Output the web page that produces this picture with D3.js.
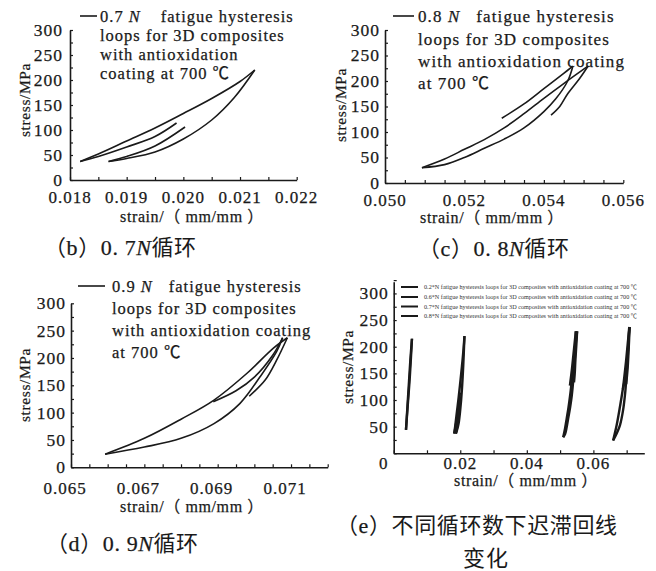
<!DOCTYPE html>
<html><head><meta charset="utf-8">
<script src="https://cdn.jsdelivr.net/npm/d3@7"></script>
<style>
html,body{margin:0;padding:0;background:#fff;}
svg{display:block;}
</style>
</head><body>
<script>
// ---------------- DATA ----------------
const stressTicks = [0, 50, 100, 150, 200, 250, 300];
const stressTicksE = [50, 100, 150, 200, 250, 300];

const strainTicksB = [0.018, 0.019, 0.020, 0.021, 0.022];
const strainTicksC = [0.050, 0.052, 0.054, 0.056];
const strainTicksD = [0.065, 0.067, 0.069, 0.071];
const strainTicksE = [0, 0.02, 0.04, 0.06];

// (b) 0.7N cycles  [strain, stress]
const bUpper   = [[0.01818,37],[0.0185,52],[0.0190,78],[0.0195,104],[0.0200,133],[0.0205,163],[0.0210,197],[0.02126,220]];
const bLower   = [[0.02126,220],[0.0209,165],[0.0205,120],[0.0200,82],[0.0195,56],[0.0190,43],[0.01868,37]];
const bReload1 = [[0.01818,37],[0.0185,47],[0.0190,66],[0.0195,87],[0.01988,114]];
const bReload2 = [[0.01868,37],[0.0190,47],[0.0195,68],[0.02003,106]];

// (c) 0.8N cycles
const cUpper = [[0.05093,30],[0.0515,47],[0.0520,66],[0.0525,85],[0.0530,108],[0.0535,136],[0.0540,166],[0.0545,195],[0.05511,229]];
const cLower = [[0.05093,30],[0.0515,36],[0.0520,50],[0.0525,68],[0.0530,86],[0.0535,108],[0.0540,140],[0.0543,165],[0.0546,200],[0.05473,229]];
const cSeg1  = [[0.05294,127],[0.0535,155],[0.0540,185],[0.0545,215],[0.05473,229]];
const cSeg2  = [[0.05511,229],[0.0549,205],[0.0546,175],[0.0544,150],[0.05418,133]];

// (d) 0.9N cycles
const dUpper = [[0.06593,24],[0.0670,53],[0.0680,88],[0.0689,123],[0.0698,172],[0.07052,218],[0.0709,237]];
const dLower = [[0.06593,24],[0.0670,37],[0.0680,53],[0.0689,80],[0.06961,117],[0.07016,166],[0.07061,212],[0.07077,237]];
const dSeg1  = [[0.06888,120],[0.0695,140],[0.0700,165],[0.0705,205],[0.07077,237]];
const dSeg2  = [[0.0709,237],[0.0706,195],[0.0703,160],[0.06986,130]];

// (e) 0.2N cycles (others reuse b, c, d)
const e02Up   = [[0.00369,44],[0.0042,95],[0.0046,135],[0.0050,175],[0.00549,215]];
const e02Down = [[0.00549,215],[0.0051,170],[0.0047,130],[0.0042,88],[0.00369,44]];

const legendE = [
  "0.2*N fatigue hysteresis loops for 3D composites with antioxidation coating at 700 ℃",
  "0.6*N fatigue hysteresis loops for 3D composites with antioxidation coating at 700 ℃",
  "0.7*N fatigue hysteresis loops for 3D composites with antioxidation coating at 700 ℃",
  "0.8*N fatigue hysteresis loops for 3D composites with antioxidation coating at 700 ℃"
];

// ---------------- DRAW ----------------
const W = 656, H = 571;
const SERIF = "Liberation Serif, Noto Sans CJK SC, serif";
const CJK = "Noto Sans CJK SC";
const INK = "#1a1a1a";
const svg = d3.select("body").append("svg").attr("width", W).attr("height", H);

function T(sel, sw) {
  return sel.attr("font-family", SERIF).attr("fill", INK)
    .attr("stroke", INK).attr("stroke-width", sw == null ? 0.25 : sw);
}

function panel(cfg) {
  const g = svg.append("g");
  const x = d3.scaleLinear().domain(cfg.xDom).range([cfg.left, cfg.right]);
  const y = d3.scaleLinear().domain(cfg.yDom).range([cfg.bottom, cfg.top]);

  const xMinor = d3.range(Math.round((cfg.xDom[1]-cfg.xDom[0])/cfg.xStep)+1).map(i => cfg.xDom[0] + i*cfg.xStep);
  const xa = g.append("g").attr("transform", `translate(0,${cfg.bottom})`)
    .call(d3.axisBottom(x).tickValues(xMinor).tickSizeInner(-3).tickSizeOuter(0).tickFormat(""));
  const yMinor = d3.range(Math.round((cfg.yMax-cfg.yDom[0])/25)+1).map(i => i*25);
  const ya = g.append("g").attr("transform", `translate(${cfg.left},0)`)
    .call(d3.axisLeft(y).tickValues(yMinor).tickSizeInner(-3).tickSizeOuter(0).tickFormat(""));
  [xa, ya].forEach(a => {
    a.select(".domain").attr("stroke", INK).attr("stroke-width", 1.6);
    a.selectAll(".tick line").attr("stroke", INK).attr("stroke-width", 1.2);
  });

  T(g.selectAll(null).data(cfg.xTicks).enter().append("text"))
    .attr("x", (d, i) => x(d) + (cfg.xLabDx ? cfg.xLabDx(i) : 0)).attr("y", cfg.bottom + cfg.xLabOff)
    .attr("text-anchor", "middle").attr("font-size", 17).attr("letter-spacing", 1)
    .text((d, i) => cfg.xFmt(d, i));
  T(g.selectAll(null).data(cfg.yTicks).enter().append("text"))
    .attr("x", cfg.left - cfg.yLabOff).attr("y", d => y(d)).attr("dy", "0.34em")
    .attr("text-anchor", "end").attr("font-size", 17.5).attr("letter-spacing", 1)
    .text(d => d);

  T(g.append("text")).attr("x", cfg.xTitle[0]).attr("y", cfg.xTitle[1])
    .attr("text-anchor", "middle").attr("font-size", 16).attr("letter-spacing", 0.6)
    .text("strain/（ mm/mm ）");
  T(g.append("text")).attr("transform", `translate(${cfg.yTitle[0]},${cfg.yTitle[1]}) rotate(-90)`)
    .attr("text-anchor", "middle").attr("dy", "0.35em").attr("font-size", 15.5).attr("letter-spacing", 0.6)
    .text("stress/MPa");

  const line = d3.line().x(d => x(d[0])).y(d => y(d[1])).curve(d3.curveCatmullRom.alpha(0.5));
  cfg.series.forEach(s => {
    g.append("path").attr("d", line(s)).attr("fill", "none")
      .attr("stroke", INK).attr("stroke-width", cfg.lw || 1.6).attr("stroke-linejoin", "round");
  });
  return {g, x, y};
}

function legendBlock(x0, xLine0, xLine1, yRows, lines, nLabel, fs, ls, gap) {
  svg.append("line").attr("x1", xLine0).attr("x2", xLine1)
    .attr("y1", yRows[0] - 6).attr("y2", yRows[0] - 6)
    .attr("stroke", INK).attr("stroke-width", 1.6);
  lines.forEach((t, i) => {
    const tx = T(svg.append("text")).attr("x", x0).attr("y", yRows[i])
      .attr("font-size", fs).attr("letter-spacing", ls);
    if (i === 0) {
      tx.append("tspan").text(nLabel + " ");
      tx.append("tspan").attr("font-style", "italic").text("N");
      tx.append("tspan").attr("dx", gap).text(t);
    } else tx.text(t);
  });
}

function caption(x0, yb, letter, num, n, post) {
  const t = T(svg.append("text")).attr("x", x0).attr("y", yb).attr("font-size", 22)
    .attr("letter-spacing", 0.6);
  t.append("tspan").attr("font-family", CJK).attr("stroke-width", 0).text("（");
  t.append("tspan").text(letter);
  t.append("tspan").attr("font-family", CJK).attr("stroke-width", 0).text("）");
  t.append("tspan").text(num);
  t.append("tspan").attr("font-style", "italic").text(n);
  t.append("tspan").attr("font-family", CJK).attr("stroke-width", 0).text(post);
  return t;
}

// (b)
panel({
  left: 70, right: 296.7, bottom: 180, top: 30,
  xDom: [0.018, 0.022], yDom: [0, 300], yMax: 300, xStep: 0.0005,
  xTicks: strainTicksB, xFmt: d => d3.format(".3f")(d), xLabOff: 23,
  yTicks: stressTicks, yLabOff: 7,
  xTitle: [192, 222], yTitle: [25, 100],
  series: [bUpper, bLower, bReload1, bReload2]
});
legendBlock(100, 80, 97, [22, 41, 60, 79],
  ["fatigue hysteresis", "loops for 3D composites", "with antioxidation", "coating at 700 ℃"], "0.7", 16.5, 1, 20);
caption(44, 255, "b", "0. 7", "N", "循环");

// (c)
panel({
  left: 385, right: 623.3, bottom: 183, top: 30,
  xDom: [0.050, 0.056], yDom: [0, 300], yMax: 300, xStep: 0.0005,
  xTicks: strainTicksC, xFmt: d => d3.format(".3f")(d), xLabOff: 23,
  yTicks: stressTicks, yLabOff: 5,
  xTitle: [492, 223], yTitle: [341, 105],
  series: [cUpper, cLower, cSeg1, cSeg2]
});
legendBlock(418, 393, 414, [22, 45, 67, 89],
  ["fatigue hysteresis", "loops for 3D composites", "with antioxidation coating", "at 700 ℃"], "0.8", 17, 1.1, 16);
caption(418, 256, "c", "0. 8", "N", "循环");

// (d)
panel({
  left: 71, right: 327.7, bottom: 467.3, top: 303.3,
  xDom: [0.065, 0.072], yDom: [0, 300], yMax: 300, xStep: 0.0005,
  xTicks: strainTicksD, xFmt: d => d3.format(".3f")(d), xLabOff: 27, xLabDx: () => -6,
  yTicks: stressTicks, yLabOff: 5,
  xTitle: [192, 512], yTitle: [25, 385],
  series: [dUpper, dLower, dSeg1, dSeg2]
});
legendBlock(112, 78, 105, [292, 314, 336, 358],
  ["fatigue hysteresis", "loops for 3D composites", "with antioxidation coating", "at 700 ℃"], "0.9", 16.5, 1, 16);
caption(46, 551, "d", "0. 9", "N", "循环");

// (e)
panel({
  left: 393.7, right: 644.3, bottom: 453.3, top: 281.7,
  xDom: [0, 0.0753], yDom: [0, 322], yMax: 320, xStep: 0.01,
  xTicks: strainTicksE, xFmt: (d, i) => i === 0 ? "0" : d3.format(".2f")(d), xLabOff: 16,
  xLabDx: i => i === 0 ? -10 : 0,
  yTicks: stressTicksE, yLabOff: 5, lw: 2.4,
  xTitle: [526, 486], yTitle: [347.7, 367],
  series: [e02Up, e02Down, bUpper, bLower, bReload1, bReload2, cUpper, cLower, cSeg1, cSeg2, dUpper, dLower, dSeg1, dSeg2]
});
legendE.forEach((t, i) => {
  const yy = [287, 297, 306.5, 316][i];
  svg.append("line").attr("x1", 401).attr("x2", 418).attr("y1", yy).attr("y2", yy)
    .attr("stroke", INK).attr("stroke-width", 2);
  T(svg.append("text"), 0).attr("x", 424).attr("y", yy + 2).attr("font-size", 5.6)
    .attr("textLength", 213).attr("lengthAdjust", "spacingAndGlyphs")
    .attr("fill", "#333").text(t);
});
const ce = T(svg.append("text")).attr("x", 336).attr("y", 533).attr("font-size", 22).attr("letter-spacing", 0.6);
ce.append("tspan").attr("font-family", CJK).attr("stroke-width", 0).text("（");
ce.append("tspan").text("e");
ce.append("tspan").attr("font-family", CJK).attr("stroke-width", 0).text("）不同循环数下迟滞回线");
T(svg.append("text"), 0).attr("x", 486).attr("y", 566).attr("text-anchor", "middle")
  .attr("font-family", CJK).attr("font-size", 22).attr("letter-spacing", 1).text("变化");
</script>
</body></html>
